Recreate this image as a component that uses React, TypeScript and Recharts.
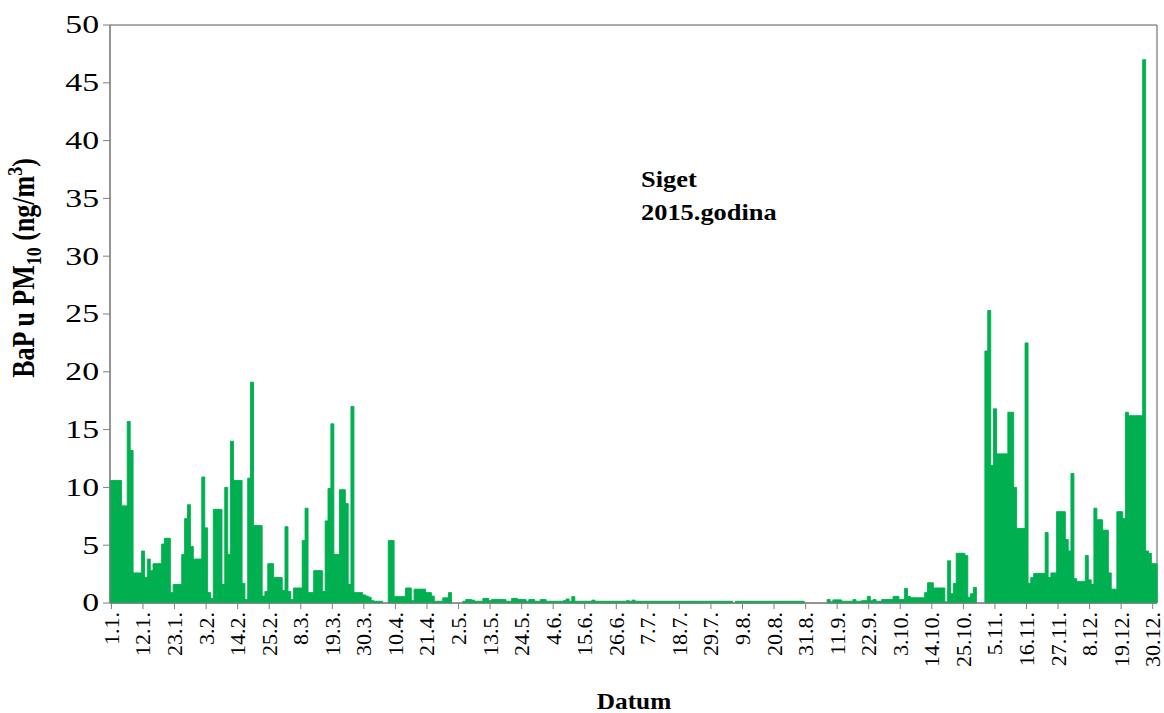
import React from 'react';
import { BarChart, Bar, XAxis, YAxis, ReferenceArea } from 'recharts';

// BaP in PM10 (ng/m3), Siget 2015, one value per day
const jan = [10.6, 10.6, 10.6, 10.6, 8.4, 8.4, 15.7, 13.2, 2.6, 2.6, 2.6, 4.5, 2.2, 3.8, 2.8, 3.4, 3.4, 3.4, 5.1, 5.6, 5.6, 0.9, 1.6, 1.6, 1.6, 4.2, 7.3, 8.5, 4.9, 3.8, 3.8];
const feb = [3.8, 10.9, 6.5, 0.9, 0.4, 8.1, 8.1, 8.1, 1.6, 10.0, 4.2, 14.0, 10.6, 10.6, 10.6, 1.7, 0.3, 10.8, 19.1, 6.7, 6.7, 6.7, 0.6, 1.0, 3.4, 3.4, 2.2, 2.2];
const mar = [2.2, 1.1, 6.6, 1.0, 0.3, 1.3, 1.3, 1.3, 5.4, 8.2, 0.9, 0.9, 2.8, 2.8, 2.8, 1.0, 7.1, 9.9, 15.5, 4.2, 4.2, 9.8, 9.8, 8.6, 1.6, 17.0, 0.9, 0.9, 0.9, 0.7, 0.6];
const apr = [0.5, 0.2, 0.15, 0.15, 0.15, 0, 0, 5.4, 5.4, 0.55, 0.55, 0.55, 0.55, 1.3, 1.3, 0.2, 1.2, 1.2, 1.2, 1.2, 0.9, 0.9, 0.6, 0.15, 0.15, 0.15, 0.45, 0.45, 0.9, 0];
const may = [0, 0, 0, 0.15, 0.3, 0.3, 0.25, 0.15, 0.15, 0.15, 0.4, 0.4, 0.2, 0.3, 0.3, 0.3, 0.3, 0.3, 0.15, 0.15, 0.4, 0.4, 0.3, 0.3, 0.3, 0.15, 0.3, 0.3, 0.15, 0.15, 0.3];
const jun = [0.3, 0.15, 0.15, 0.15, 0.15, 0.15, 0.15, 0.2, 0.35, 0.15, 0.55, 0.15, 0.15, 0.15, 0.15, 0.15, 0.15, 0.25, 0.15, 0.15, 0.15, 0.15, 0.15, 0.15, 0.15, 0.15, 0.15, 0.15, 0.15, 0.2];
const jul = [0.15, 0.25, 0.15, 0.15, 0.15, 0.15, 0.15, 0.15, 0.15, 0.15, 0.15, 0.15, 0.15, 0.15, 0.15, 0.15, 0.15, 0.15, 0.15, 0.15, 0.15, 0.15, 0.15, 0.15, 0.15, 0.15, 0.15, 0.15, 0.15, 0.15, 0.15];
const aug = [0.15, 0.15, 0.15, 0.15, 0.15, 0, 0.15, 0.15, 0.15, 0.15, 0.15, 0.15, 0.15, 0.15, 0.15, 0.15, 0.15, 0.15, 0.15, 0.15, 0.15, 0.15, 0.15, 0.15, 0.15, 0.15, 0.15, 0.15, 0.15, 0.15, 0];
const sep = [0, 0, 0, 0, 0, 0, 0, 0.3, 0.1, 0.27, 0.27, 0.27, 0.15, 0.15, 0.15, 0.15, 0.3, 0.15, 0.15, 0.2, 0.2, 0.57, 0.2, 0.3, 0.15, 0.15, 0.3, 0.3, 0.3, 0.3];
const oct = [0.57, 0.57, 0.3, 0.3, 1.26, 0.57, 0.45, 0.45, 0.45, 0.45, 0.45, 0.9, 1.75, 1.75, 1.3, 1.3, 1.3, 1.3, 0.1, 3.65, 0.8, 1.7, 4.3, 4.3, 4.3, 4.1, 0.5, 0.8, 1.35, 0, 0];
const nov = [0, 21.8, 25.3, 11.9, 16.8, 12.9, 12.9, 12.9, 12.9, 16.5, 16.5, 10.0, 6.45, 6.45, 6.45, 22.5, 1.7, 2.2, 2.55, 2.55, 2.55, 2.55, 6.1, 2.2, 2.6, 2.6, 7.9, 7.9, 7.9, 5.5];
const dec = [4.5, 11.2, 2.1, 1.85, 1.85, 1.85, 4.1, 2.0, 1.6, 8.2, 7.2, 7.2, 6.3, 6.3, 2.6, 1.2, 1.2, 7.9, 7.9, 7.3, 16.5, 16.2, 16.2, 16.2, 16.2, 16.2, 47, 4.5, 4.3, 3.4, 3.4];

const months = [jan, feb, mar, apr, may, jun, jul, aug, sep, oct, nov, dec];
const yTicks = [0, 5, 10, 15, 20, 25, 30, 35, 40, 45, 50];

const data = months.flatMap((vals, m) =>
  vals.map((v, d) => ({ date: `${d + 1}.${m + 1}.`, bap: v }))
);

const FONT = '"Liberation Serif", "Times New Roman", serif';
const AXIS = '#7f7f7f';
const GREEN = '#00B050';

const YTick = ({ x, y, payload }: any) => (
  <text
    transform={`translate(${x},${y}) scale(1.35,1)`}
    textAnchor="end"
    dominantBaseline="central"
    fontFamily={FONT}
    fontSize={25}
    fill="#000"
  >
    {payload.value}
  </text>
);

const XTick = ({ x, y, payload }: any) => (
  <text
    transform={`translate(${x},${y}) rotate(-90)`}
    textAnchor="end"
    dominantBaseline="central"
    fontFamily={FONT}
    fontSize={22}
    fill="#000"
  >
    {payload.value}
  </text>
);

const yLabel = () => (
  <text
    transform="translate(34,268) scale(1.2,1) rotate(-90)"
    textAnchor="middle"
    fontFamily={FONT}
    fontWeight="bold"
    fontSize={26}
    fill="#000"
  >
    BaP u PM
    <tspan dy={6} fontSize={18}>10</tspan>
    <tspan dy={-6}> (ng/m</tspan>
    <tspan dy={-10} fontSize={18}>3</tspan>
    <tspan dy={10}>)</tspan>
  </text>
);

const xLabel = () => (
  <g fontFamily={FONT} fontWeight="bold" fill="#000">
    <text transform="translate(634,709) scale(1.1,1)" textAnchor="middle" fontSize={23}>
      Datum
    </text>
    <text transform="translate(641,187) scale(1.1,1)" fontSize={24}>
      Siget
    </text>
    <text transform="translate(641,220) scale(1.1,1)" fontSize={24}>
      2015.godina
    </text>
  </g>
);

export default function App() {
  return (
    <div style={{ position: 'absolute', left: 0, top: 0, background: '#fff' }}>
      <BarChart
        width={1164}
        height={713}
        data={data}
        margin={{ top: 25, right: 7, left: 0, bottom: 0 }}
        barCategoryGap={0}
        barGap={0}
      >
        <XAxis
          dataKey="date"
          interval={10}
          height={110}
          tick={<XTick />}
          tickSize={6}
          tickMargin={3}
          tickLine={{ stroke: AXIS }}
          axisLine={{ stroke: AXIS }}
          label={xLabel}
        />
        <YAxis
          domain={[0, 50]}
          ticks={yTicks}
          width={110}
          tick={<YTick />}
          tickSize={7}
          tickMargin={4}
          tickLine={{ stroke: AXIS }}
          axisLine={{ stroke: AXIS }}
          label={yLabel}
        />
        <Bar dataKey="bap" fill={GREEN} stroke={GREEN} strokeWidth={0.9} isAnimationActive={false} />
        <ReferenceArea y1={0} y2={50} fill="none" stroke="#595959" strokeWidth={1} />
      </BarChart>
    </div>
  );
}
